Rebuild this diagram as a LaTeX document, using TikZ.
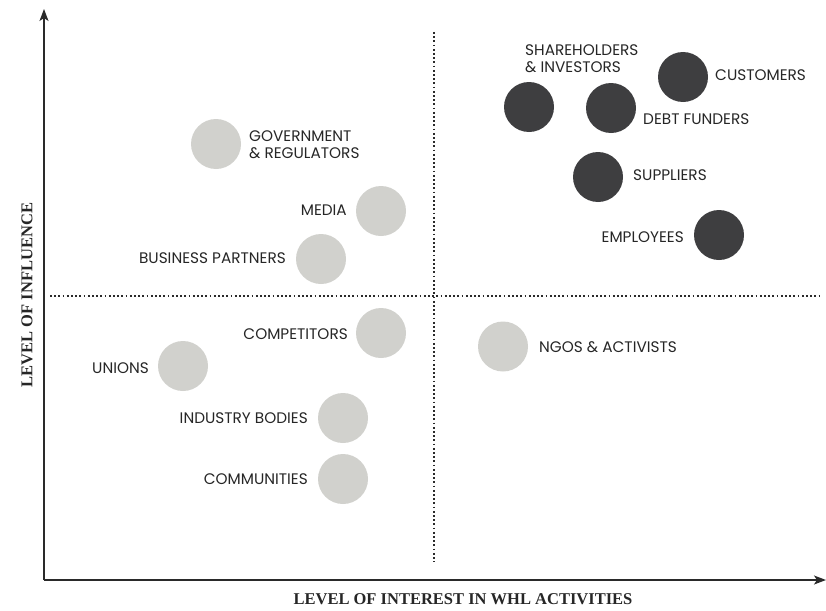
\documentclass[tikz,border=0pt]{standalone}
\usepackage{fontspec}
\setmainfont{Liberation Serif}
\newfontfamily\labelfont{Poppins}
\usetikzlibrary{arrows.meta}

\definecolor{inkdark}{HTML}{3E3E40}
\definecolor{inklight}{HTML}{D1D1CD}
\definecolor{txt}{HTML}{262626}
\definecolor{axisc}{HTML}{2A2A2A}

\tikzset{
  x=1pt, y=-1pt,
  keygroup/.style={circle, fill=inkdark, minimum size=50pt, inner sep=0pt},
  othergroup/.style={circle, fill=inklight, minimum size=50pt, inner sep=0pt},
  tag/.style={inner sep=0pt, text=txt, font=\labelfont\fontsize{15.3}{17}\selectfont, align=left},
  tagL/.style={tag, anchor=base west},
  tagR/.style={tag, anchor=base east},
  axisline/.style={draw=axisc, line width=1.4pt, -{Stealth[length=12pt, width=9pt, inset=3pt]}},
  divider/.style={draw=axisc, line width=2pt, dash pattern=on 1.8pt off 2.4pt},
  axistitle/.style={inner sep=0pt, text=txt, font=\bfseries\fontsize{16.5}{18}\selectfont}
}

\begin{document}
\begin{tikzpicture}
\useasboundingbox (0,0) rectangle (826,610);

% axes
\coordinate (origin) at (44,580);
\coordinate (ytop) at (44,9);
\coordinate (xend) at (826,580);
\draw[axisline] (origin) -- (ytop);
\draw[axisline] (origin) -- (xend);

% quadrant dividers
\coordinate (vtop) at (433.5,32);
\coordinate (vbot) at (433.5,562);
\coordinate (hleft) at (50,295.5);
\coordinate (hright) at (819,295.5);
\draw[divider] (vtop) -- (vbot);
\draw[divider] (hleft) -- (hright);

% axis titles
\node[axistitle] (xtitle) at (463,599) {LEVEL OF INTEREST IN WHL ACTIVITIES};
\node[axistitle, rotate=90] (ytitle) at (27,295) {LEVEL OF INFLUENCE};

% key stakeholders
\node[keygroup] (share) at (529,107) {};
\node[keygroup] (debt) at (611,108) {};
\node[keygroup] (cust) at (683,77) {};
\node[keygroup] (supp) at (598,177) {};
\node[keygroup] (empl) at (719,235) {};

% other stakeholders
\node[othergroup] (gov) at (216,144) {};
\node[othergroup] (media) at (381,211) {};
\node[othergroup] (bp) at (321,259) {};
\node[othergroup] (comp) at (381,333) {};
\node[othergroup] (unions) at (183,366) {};
\node[othergroup] (ngo) at (503,346.5) {};
\node[othergroup] (ind) at (343,418) {};
\node[othergroup] (comm) at (343,479) {};

% labels (two-line labels are placed by the baseline of their last line)
\node[tagL] (shareL) at (525,72) {SHAREHOLDERS\\\& INVESTORS};
\node[tagL] (custL) at (715,80.5) {CUSTOMERS};
\node[tagL] (debtL) at (643,124.5) {DEBT FUNDERS};
\node[tagL] (suppL) at (633,180.5) {SUPPLIERS};
\node[tagR] (emplL) at (684,242.5) {EMPLOYEES};
\node[tagL] (govL) at (249,158.5) {GOVERNMENT\\\& REGULATORS};
\node[tagR] (mediaL) at (347,215.5) {MEDIA};
\node[tagR] (bpL) at (286,263.5) {BUSINESS PARTNERS};
\node[tagR] (compL) at (348,339.5) {COMPETITORS};
\node[tagR] (unionsL) at (149,373.5) {UNIONS};
\node[tagL] (ngoL) at (539,352.5) {NGOS \& ACTIVISTS};
\node[tagR] (indL) at (308,423.5) {INDUSTRY BODIES};
\node[tagR] (commL) at (308,484.5) {COMMUNITIES};
\end{tikzpicture}
\end{document}
